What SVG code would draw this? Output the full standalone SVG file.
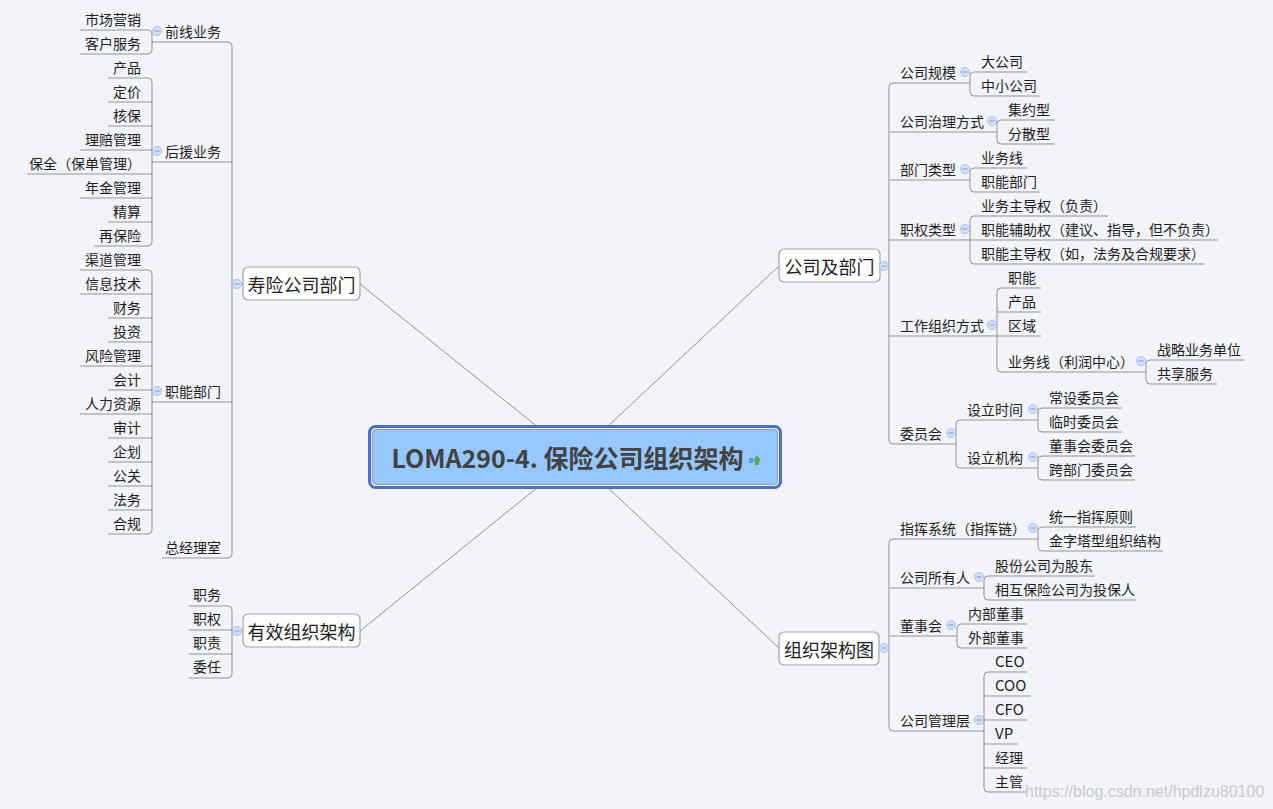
<svg xmlns="http://www.w3.org/2000/svg" width="1273" height="809" viewBox="0 0 1273 809">
<style>
.t{font-family:"Noto Sans CJK SC","Liberation Sans",sans-serif;font-size:14px;fill:#1e1e1e;dominant-baseline:central}
.e{text-anchor:end}
.m{font-size:18px;text-anchor:middle}
.l{fill:none;stroke:#939393;stroke-width:1}
.box{fill:#ffffff;stroke:#a3a3a3;stroke-width:1.2}
.cc{fill:#d3e0f7;stroke:#a9c0ea;stroke-width:1}
.cm{stroke:#7d9bd6;stroke-width:1}
</style>
<rect width="1273" height="809" fill="#f3f4f9"/>
<defs>
<g id="col"><circle r="4.5" class="cc"/><line x1="-2.5" y1="0" x2="2.5" y2="0" class="cm"/></g>
</defs>
<g id="connectors" class="l">
<path d="M575 457L360 284M575 457L779 266M575 457L360 631M575 457L779 648"/>
<path d="M152 42H228Q232 42 232 46V554Q232 558 228 558H162M152 162H232M152 402H232M232 284H243"/>
<path d="M80 30H148Q152 30 152 34V50Q152 54 148 54H80"/>
<path d="M108 78H148Q152 78 152 82V242Q152 246 148 246H94M108 102H152M108 126H152M80 150H152M27 174H152M80 198H152M108 222H152"/>
<path d="M80 270H148Q152 270 152 274V530Q152 534 148 534H108M80 294H152M108 318H152M108 342H152M80 366H152M108 390H152M80 414H152M108 438H152M108 462H152M108 486H152M108 510H152"/>
<path d="M189 606H228Q232 606 232 610V674Q232 678 228 678H189M189 630H232M189 654H232M232 631H243"/>
<path d="M970 83H893Q889 83 889 87V440Q889 444 893 444H956M889 132H997M889 180H970M889 240H970M889 336H997M880 266H889"/>
<path d="M1027 72H974Q970 72 970 76V92Q970 96 974 96H1040"/>
<path d="M1055 120H1001Q997 120 997 124V140Q997 144 1001 144H1055"/>
<path d="M1027 168H974Q970 168 970 172V188Q970 192 974 192H1040"/>
<path d="M1108 216H974Q970 216 970 220V260Q970 264 974 264H1204M970 240H1218"/>
<path d="M1041 288H1001Q997 288 997 292V368Q997 372 1001 372H1146M997 312H1041M997 336H1041"/>
<path d="M1244 360H1150Q1146 360 1146 364V380Q1146 384 1150 384H1217"/>
<path d="M1038 420H960Q956 420 956 424V464Q956 468 960 468H1038"/>
<path d="M1122 408H1042Q1038 408 1038 412V428Q1038 432 1042 432H1122"/>
<path d="M1135 456H1042Q1038 456 1038 460V476Q1038 480 1042 480H1135"/>
<path d="M1038 539H893Q889 539 889 543V727Q889 731 893 731H984M889 588H984M889 636H957M879 648H889"/>
<path d="M1136 527H1042Q1038 527 1038 531V547Q1038 551 1042 551H1163"/>
<path d="M1095 576H988Q984 576 984 580V596Q984 600 988 600H1136"/>
<path d="M1027 624H961Q957 624 957 628V644Q957 648 961 648H1027"/>
<path d="M1027 672H988Q984 672 984 676V788Q984 792 988 792H1027M984 696H1031M984 720H1027M984 744H1018M984 768H1027"/>
</g>
<g id="center">
<rect x="369.5" y="426.5" width="411" height="61" rx="6" fill="#e9eef9" stroke="#4a70c4" stroke-width="3"/>
<rect x="372.5" y="429.5" width="405" height="55" rx="4" fill="#96c7fe" stroke="#8e9bb2" stroke-width="1"/>
<text x="567.5" y="456.5" class="t" style="font-size:25px;font-weight:bold;fill:#424242;text-anchor:middle">LOMA290-4. 保险公司组织架构</text>
<rect x="749" y="458" width="4" height="5" fill="#5b9bd5"/>
<path d="M753 461L757 455L761 461H759V465H755V461Z" fill="#4caf50"/>
</g>
<g id="n-shouxian"><rect x="243" y="267" width="117" height="33" rx="5" class="box"/><text x="301.5" y="283.5" class="t m">寿险公司部门</text><use href="#col" x="237" y="284"/></g>
<g id="n-youxiao"><rect x="243" y="614" width="117" height="33" rx="5" class="box"/><text x="301.5" y="630.5" class="t m">有效组织架构</text><use href="#col" x="237" y="631"/></g>
<g id="n-gongsi"><rect x="779" y="249" width="101" height="33" rx="5" class="box"/><text x="829.5" y="265.5" class="t m">公司及部门</text><use href="#col" x="884" y="266"/></g>
<g id="n-zuzhi"><rect x="779" y="632" width="100" height="33" rx="5" class="box"/><text x="829" y="648.5" class="t m">组织架构图</text><use href="#col" x="884" y="648"/></g>
<g id="n-qianxian"><text x="221" y="30.5" class="t e">前线业务</text><use href="#col" x="157" y="31"/></g>
<g id="n-houyuan"><text x="221" y="150.5" class="t e">后援业务</text><use href="#col" x="157" y="151"/></g>
<g id="n-zhineng"><text x="221" y="390.5" class="t e">职能部门</text><use href="#col" x="157" y="391"/></g>
<g id="n-zongjingli"><text x="221" y="546.5" class="t e">总经理室</text></g>
<g id="n-l1"><text x="141" y="18.5" class="t e">市场营销</text></g>
<g id="n-l2"><text x="141" y="42.5" class="t e">客户服务</text></g>
<g id="n-l3"><text x="141" y="66.5" class="t e">产品</text></g>
<g id="n-l4"><text x="141" y="90.5" class="t e">定价</text></g>
<g id="n-l5"><text x="141" y="114.5" class="t e">核保</text></g>
<g id="n-l6"><text x="141" y="138.5" class="t e">理赔管理</text></g>
<g id="n-l7"><text x="141" y="162.5" class="t e">保全（保单管理）</text></g>
<g id="n-l8"><text x="141" y="186.5" class="t e">年金管理</text></g>
<g id="n-l9"><text x="141" y="210.5" class="t e">精算</text></g>
<g id="n-l10"><text x="141" y="234.5" class="t e">再保险</text></g>
<g id="n-l11"><text x="141" y="258.5" class="t e">渠道管理</text></g>
<g id="n-l12"><text x="141" y="282.5" class="t e">信息技术</text></g>
<g id="n-l13"><text x="141" y="306.5" class="t e">财务</text></g>
<g id="n-l14"><text x="141" y="330.5" class="t e">投资</text></g>
<g id="n-l15"><text x="141" y="354.5" class="t e">风险管理</text></g>
<g id="n-l16"><text x="141" y="378.5" class="t e">会计</text></g>
<g id="n-l17"><text x="141" y="402.5" class="t e">人力资源</text></g>
<g id="n-l18"><text x="141" y="426.5" class="t e">审计</text></g>
<g id="n-l19"><text x="141" y="450.5" class="t e">企划</text></g>
<g id="n-l20"><text x="141" y="474.5" class="t e">公关</text></g>
<g id="n-l21"><text x="141" y="498.5" class="t e">法务</text></g>
<g id="n-l22"><text x="141" y="522.5" class="t e">合规</text></g>
<g id="n-y1"><text x="221" y="594" class="t e">职务</text></g>
<g id="n-y2"><text x="221" y="618" class="t e">职权</text></g>
<g id="n-y3"><text x="221" y="642" class="t e">职责</text></g>
<g id="n-y4"><text x="221" y="666" class="t e">委任</text></g>
<g id="n-guimo"><text x="900" y="72" class="t">公司规模</text><use href="#col" x="965" y="72"/></g>
<g id="n-zhili"><text x="900" y="120.5" class="t">公司治理方式</text><use href="#col" x="992" y="121"/></g>
<g id="n-bumen"><text x="900" y="168.5" class="t">部门类型</text><use href="#col" x="965" y="169"/></g>
<g id="n-zhiquan"><text x="900" y="228.5" class="t">职权类型</text><use href="#col" x="965" y="229"/></g>
<g id="n-gongzuo"><text x="900" y="324.5" class="t">工作组织方式</text><use href="#col" x="992" y="325"/></g>
<g id="n-weiyuan"><text x="900" y="432.5" class="t">委员会</text><use href="#col" x="951" y="433"/></g>
<g id="n-r1"><text x="981" y="60.5" class="t">大公司</text></g>
<g id="n-r2"><text x="981" y="84.5" class="t">中小公司</text></g>
<g id="n-r3"><text x="1008" y="108.5" class="t">集约型</text></g>
<g id="n-r4"><text x="1008" y="132.5" class="t">分散型</text></g>
<g id="n-r5"><text x="981" y="156.5" class="t">业务线</text></g>
<g id="n-r6"><text x="981" y="180.5" class="t">职能部门</text></g>
<g id="n-r7"><text x="981" y="204.5" class="t">业务主导权（负责）</text></g>
<g id="n-r8"><text x="981" y="228.5" class="t">职能辅助权（建议、指导，但不负责）</text></g>
<g id="n-r9"><text x="981" y="252.5" class="t">职能主导权（如，法务及合规要求）</text></g>
<g id="n-r10"><text x="1008" y="276.5" class="t">职能</text></g>
<g id="n-r11"><text x="1008" y="300.5" class="t">产品</text></g>
<g id="n-r12"><text x="1008" y="324.5" class="t">区域</text></g>
<g id="n-r13"><text x="1008" y="360.5" class="t">业务线（利润中心）</text><use href="#col" x="1141" y="361"/></g>
<g id="n-r14"><text x="1157" y="348.5" class="t">战略业务单位</text></g>
<g id="n-r15"><text x="1157" y="372.5" class="t">共享服务</text></g>
<g id="n-r16"><text x="967" y="408.5" class="t">设立时间</text><use href="#col" x="1033" y="409"/></g>
<g id="n-r17"><text x="967" y="456.5" class="t">设立机构</text><use href="#col" x="1033" y="457"/></g>
<g id="n-r18"><text x="1049" y="396.5" class="t">常设委员会</text></g>
<g id="n-r19"><text x="1049" y="420.5" class="t">临时委员会</text></g>
<g id="n-r20"><text x="1049" y="444.5" class="t">董事会委员会</text></g>
<g id="n-r21"><text x="1049" y="468.5" class="t">跨部门委员会</text></g>
<g id="n-zhihui"><text x="900" y="527.5" class="t">指挥系统（指挥链）</text><use href="#col" x="1033" y="528"/></g>
<g id="n-suoyou"><text x="900" y="576.5" class="t">公司所有人</text><use href="#col" x="979" y="577"/></g>
<g id="n-dongshi"><text x="900" y="624.5" class="t">董事会</text><use href="#col" x="951" y="625"/></g>
<g id="n-guanli"><text x="900" y="719.5" class="t">公司管理层</text><use href="#col" x="979" y="720"/></g>
<g id="n-g1"><text x="1049" y="515.5" class="t">统一指挥原则</text></g>
<g id="n-g2"><text x="1049" y="539.5" class="t">金字塔型组织结构</text></g>
<g id="n-g3"><text x="995" y="564.5" class="t">股份公司为股东</text></g>
<g id="n-g4"><text x="995" y="588.5" class="t">相互保险公司为投保人</text></g>
<g id="n-g5"><text x="968" y="612.5" class="t">内部董事</text></g>
<g id="n-g6"><text x="968" y="636.5" class="t">外部董事</text></g>
<g id="n-g7"><text x="995" y="660" class="t" style="font-size:15px">CEO</text></g>
<g id="n-g8"><text x="995" y="684" class="t" style="font-size:15px">COO</text></g>
<g id="n-g9"><text x="995" y="708" class="t" style="font-size:15px">CFO</text></g>
<g id="n-g10"><text x="995" y="732" class="t" style="font-size:15px">VP</text></g>
<g id="n-g11"><text x="995" y="756.5" class="t">经理</text></g>
<g id="n-g12"><text x="995" y="780.5" class="t">主管</text></g>
<text x="1025" y="797" style="font-family:'Liberation Sans',sans-serif;font-size:16px;fill:#cacbd0">https://blog.csdn.net/hpdlzu80100</text>
</svg>
